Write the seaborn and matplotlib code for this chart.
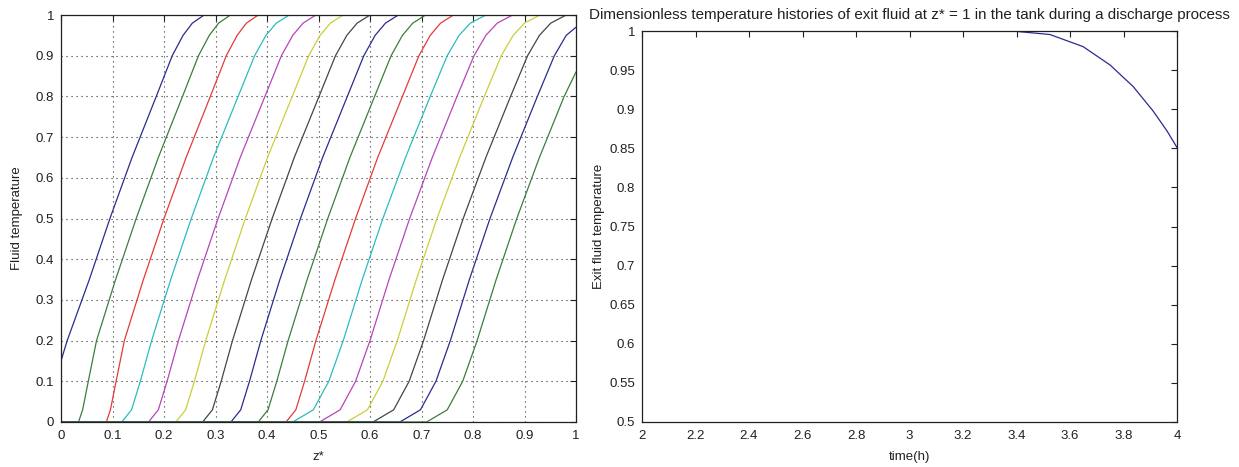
import matplotlib
matplotlib.use("Agg")
import matplotlib.pyplot as plt
import seaborn as sns
import pandas as pd
from matplotlib.ticker import FuncFormatter

# ---------------- data ----------------
# Left panel: fluid temperature profiles, z* positions at given temperature levels
T_std = [0, 0, 0.03, 0.1, 0.2, 0.35, 0.5, 0.65, 0.8, 0.9, 0.95, 0.98, 1.0, 1.0]

T_c01 = [0, 0.15, 0.2, 0.35, 0.5, 0.65, 0.8, 0.9, 0.95, 0.98, 1.0, 1.0]
z_c01 = [0, 0, 0.012, 0.055, 0.095, 0.138, 0.185, 0.216, 0.237, 0.255, 0.278, 1.0]
z_c02 = [0, 0.034, 0.042, 0.053, 0.069, 0.106, 0.146, 0.189, 0.236, 0.267, 0.288, 0.306, 0.329, 1]
z_c03 = [0, 0.088, 0.096, 0.107, 0.123, 0.160, 0.200, 0.243, 0.290, 0.321, 0.342, 0.360, 0.383, 1]
z_c04 = [0, 0.118, 0.137, 0.154, 0.176, 0.213, 0.253, 0.296, 0.344, 0.376, 0.398, 0.418, 0.443, 1]
z_c05 = [0, 0.170, 0.189, 0.206, 0.228, 0.265, 0.305, 0.348, 0.396, 0.428, 0.450, 0.470, 0.495, 1]
z_c06 = [0, 0.223, 0.242, 0.259, 0.281, 0.318, 0.358, 0.401, 0.449, 0.481, 0.503, 0.523, 0.548, 1]
z_c07 = [0, 0.275, 0.294, 0.311, 0.333, 0.370, 0.410, 0.453, 0.501, 0.533, 0.555, 0.575, 0.600, 1]
z_c08 = [0, 0.330, 0.349, 0.366, 0.388, 0.425, 0.465, 0.508, 0.556, 0.588, 0.610, 0.630, 0.655, 1]
z_c09 = [0, 0.383, 0.402, 0.419, 0.441, 0.478, 0.518, 0.561, 0.609, 0.641, 0.663, 0.683, 0.708, 1]
z_c10 = [0, 0.437, 0.456, 0.473, 0.495, 0.532, 0.572, 0.615, 0.663, 0.695, 0.717, 0.737, 0.762, 1]
z_c11 = [0, 0.450, 0.490, 0.520, 0.548, 0.585, 0.625, 0.669, 0.717, 0.750, 0.773, 0.795, 0.825, 1]
z_c12 = [0, 0.502, 0.542, 0.572, 0.600, 0.637, 0.677, 0.721, 0.769, 0.802, 0.825, 0.847, 0.877, 1]
z_c13 = [0, 0.555, 0.595, 0.625, 0.653, 0.690, 0.730, 0.774, 0.822, 0.855, 0.878, 0.900, 0.930, 1]
z_c14 = [0, 0.606, 0.646, 0.676, 0.704, 0.741, 0.781, 0.825, 0.873, 0.906, 0.929, 0.951, 0.981, 1]
T_c15 = [0, 0, 0.03, 0.1, 0.2, 0.35, 0.5, 0.65, 0.8, 0.9, 0.95, 0.97]
z_c15 = [0, 0.658, 0.698, 0.728, 0.756, 0.793, 0.833, 0.877, 0.925, 0.958, 0.981, 1.0]
T_c16 = [0, 0, 0.03, 0.1, 0.2, 0.35, 0.5, 0.65, 0.8, 0.86]
z_c16 = [0, 0.710, 0.750, 0.780, 0.808, 0.845, 0.885, 0.929, 0.977, 1.0]

# Right panel: exit fluid temperature history
time_h = [3.338, 3.40, 3.525, 3.649, 3.75, 3.836, 3.91, 3.963, 4.0]
exit_T = [1.0, 0.9995, 0.9955, 0.98, 0.9565, 0.929, 0.898, 0.872, 0.851]

left_xticks = [0, 0.1, 0.2, 0.3, 0.4, 0.5, 0.6, 0.7, 0.8, 0.9, 1]
left_yticks = [0, 0.1, 0.2, 0.3, 0.4, 0.5, 0.6, 0.7, 0.8, 0.9, 1]
right_xticks = [2, 2.2, 2.4, 2.6, 2.8, 3, 3.2, 3.4, 3.6, 3.8, 4]
right_yticks = [0.5, 0.55, 0.6, 0.65, 0.7, 0.75, 0.8, 0.85, 0.9, 0.95, 1]

# ---------------- styling ----------------
sns.set_theme(style="white")
plt.rcParams["font.family"] = ["Liberation Sans", "DejaVu Sans"]

C_B = "#2b2b8f"
C_G = "#3c7d3c"
C_R = "#e23a3a"
C_C = "#2bbcbc"
C_M = "#b845b8"
C_Y = "#cdcd3a"
C_K = "#454545"
order_colors = [C_B, C_G, C_R, C_C, C_M, C_Y, C_K]

curves = [
    (T_c01, z_c01), (T_std, z_c02), (T_std, z_c03), (T_std, z_c04),
    (T_std, z_c05), (T_std, z_c06), (T_std, z_c07), (T_std, z_c08),
    (T_std, z_c09), (T_std, z_c10), (T_std, z_c11), (T_std, z_c12),
    (T_std, z_c13), (T_std, z_c14), (T_c15, z_c15), (T_c16, z_c16),
]
rows = []
for i, (tv, zv) in enumerate(curves):
    for z, t in zip(zv, tv):
        rows.append({"curve": f"c{i+1:02d}", "z": z, "T": t})
df_left = pd.DataFrame(rows)
palette = {f"c{i+1:02d}": order_colors[i % 7] for i in range(len(curves))}

df_right = pd.DataFrame({"time": time_h, "T": exit_T})

W, H = 1239, 467
fig = plt.figure(figsize=(W / 100, H / 100), dpi=100)
fig.patch.set_facecolor("white")

def box(l, t, r, b):
    return [l / W, (H - b) / H, (r - l) / W, (b - t) / H]

ax1 = fig.add_axes(box(61, 15, 576, 422))
ax2 = fig.add_axes(box(642, 31, 1177, 422))

FS = 9.5

sns.lineplot(data=df_left, x="z", y="T", hue="curve", palette=palette,
             units="curve", estimator=None, sort=False, legend=False,
             linewidth=0.9, ax=ax1)
sns.lineplot(data=df_right, x="time", y="T", color=C_B, sort=False,
             estimator=None, linewidth=0.9, ax=ax2)

fmt = FuncFormatter(lambda v, p: f"{v:g}")
for ax in (ax1, ax2):
    for s in ax.spines.values():
        s.set_color("#202020")
        s.set_linewidth(0.9)
        s.set_visible(True)
    ax.tick_params(direction="in", top=True, right=True, length=4,
                   width=0.8, color="#202020", labelsize=FS,
                   labelcolor="#202020")
    ax.tick_params(axis="x", pad=6)
    ax.tick_params(axis="y", pad=5)
    ax.xaxis.set_major_formatter(fmt)
    ax.yaxis.set_major_formatter(fmt)
    ax.set_facecolor("white")

ax1.set_xlim(0, 1)
ax1.set_ylim(0, 1)
ax1.set_xticks(left_xticks)
ax1.set_yticks(left_yticks)
ax1.grid(True, color="#303030", linestyle=(0, (1, 3.5)), linewidth=0.8)
ax1.set_axisbelow(True)
ax1.set_xlabel("z*", fontsize=FS, color="#202020", labelpad=6)
ax1.set_ylabel("Fluid temperature", fontsize=FS, color="#202020", labelpad=9)

ax2.set_xlim(2, 4)
ax2.set_ylim(0.5, 1)
ax2.set_xticks(right_xticks)
ax2.set_yticks(right_yticks)
ax2.grid(False)
ax2.set_xlabel("time(h)", fontsize=FS, color="#202020", labelpad=6)
ax2.set_ylabel("Exit fluid temperature", fontsize=FS, color="#202020", labelpad=3)
ax2.set_title("Dimensionless temperature histories of exit fluid at z* = 1 in the tank during a discharge process",
              fontsize=10.9, color="#202020", pad=9)

fig.savefig("out.png", dpi=100, facecolor="white")
